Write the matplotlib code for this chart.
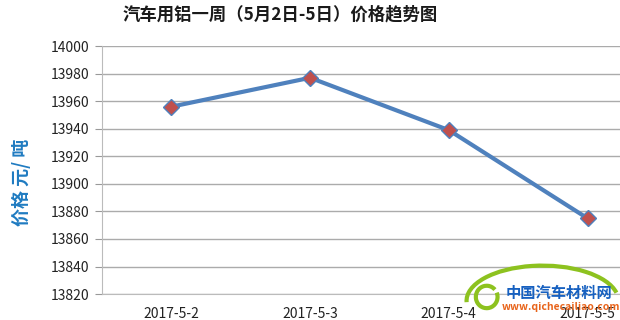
import matplotlib.pyplot as plt
from matplotlib.patches import Arc

plt.rcParams['font.family'] = ['Noto Sans CJK SC', 'DejaVu Sans']

dates = ['2017-5-2', '2017-5-3', '2017-5-4', '2017-5-5']
prices = [13956, 13977, 13939, 13875]
yticks = list(range(13820, 14001, 20))

fig = plt.figure(figsize=(6.2, 3.2), dpi=100)
fig.patch.set_facecolor('white')
# plot area runs past the right edge, like the cropped original
ax = fig.add_axes([0.1645, 0.081, 0.895, 0.775])

x = range(len(dates))
ax.plot(x, prices, color='#4F81BD', lw=3, marker='D', ms=8,
        markerfacecolor='#C0504D', markeredgecolor='#4F81BD', markeredgewidth=1, zorder=3)

ax.set_xlim(-0.5, len(dates) - 0.5)
ax.set_ylim(13820, 14000)
ax.set_yticks(yticks)
ax.set_xticks(list(x))
ax.set_xticklabels(dates, fontsize=10, color='#222222')
ax.tick_params(axis='y', labelsize=10, colors='#222222', length=5, color='#999999', pad=4)
ax.tick_params(axis='x', length=0, pad=9)
ax.grid(axis='y', color='#ABABAB', lw=1)
for s in ['top', 'right']:
    ax.spines[s].set_visible(False)
ax.spines['left'].set_color('#BBBBBB')
ax.spines['bottom'].set_color('#BBBBBB')
ax.set_axisbelow(True)

ax.set_ylabel('价格 元/ 吨', fontsize=13, fontweight='bold', color='#1F7BC1')
ax.yaxis.set_label_coords(-0.128, 0.45)

fig.text(0.452, 0.955, '汽车用铝一周（5月2日-5日）价格趋势图', ha='center', va='center',
         fontsize=12.5, fontweight='bold', color='#1a1a1a')

# watermark
arc = Arc((0.875, 0.06), 0.245, 0.22, theta1=12, theta2=182, color='#8DC21F', lw=3,
          transform=fig.transFigure)
fig.add_artist(arc)
ring = Arc((0.785, 0.072), 0.035, 0.07, theta1=60, theta2=400, color='#8DC21F', lw=3,
           transform=fig.transFigure)
fig.add_artist(ring)
fig.text(0.815, 0.084, '中国汽车材料网', fontsize=11, fontweight='bold', color='#1660C0', ha='left', va='center')
fig.text(0.81, 0.04, 'www.qichecailiao.com', fontsize=7.5, fontweight='bold', color='#E8641B',
         ha='left', va='center', style='italic')

fig.savefig('out.png', dpi=100)
